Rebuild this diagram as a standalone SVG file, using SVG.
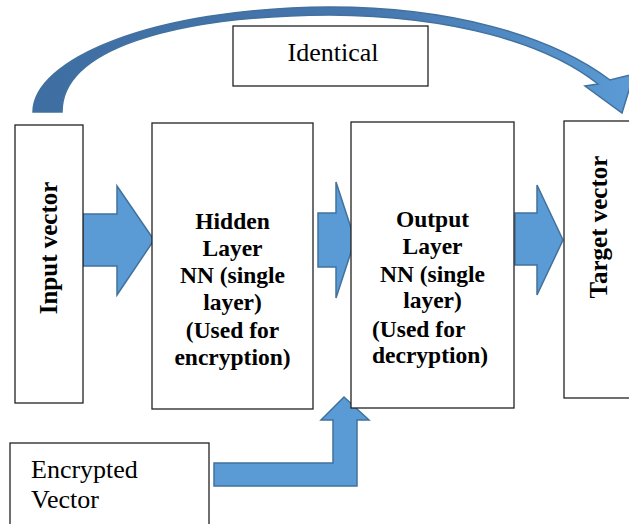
<svg xmlns="http://www.w3.org/2000/svg" width="629" height="524" viewBox="0 0 629 524">
<defs>
<linearGradient id="curveGradH" x1="0" y1="0" x2="1" y2="0">
<stop offset="0" stop-color="#3F6EA3"/>
<stop offset="0.55" stop-color="#4676AE"/>
<stop offset="1" stop-color="#5B9BD5"/>
</linearGradient>
</defs>
<style>
.box{fill:#fff;stroke:#222;stroke-width:1.3}
.arrow{fill:#5B9BD5;stroke:#41719C;stroke-width:1.5}
</style>
<rect width="629" height="524" fill="#fff"/>

<g id="connectors">
<path class="arrow" fill="url(#curveGradH)" style="fill:url(#curveGradH)" d="M33,112 C33,60 150,8 330,7 C450,7 550,35 610,80 L634,74 L622,113 L585,86 L598,84 C545,42 450,16 330,15 C170,16 62,50 62,112 Z"/>
<path class="arrow" d="M83,214 L117,214 L117,186 L154,240 L117,295 L117,266 L83,266 Z"/>
<path class="arrow" d="M318,213 L336,213 L336,182 L355,240 L336,298 L336,267 L318,267 Z"/>
<path class="arrow" d="M515,213 L537,213 L537,185 L563,240 L537,295 L537,265 L515,265 Z"/>
<path class="arrow" d="M214,463 L333,463 L333,420 L321,420 L344,397 L369,420 L357,420 L357,486 L214,486 Z"/>
</g>

<g id="identical">
<rect class="box" x="233" y="26" width="195" height="60"/>
<text x="333" y="61" font-family="Times New Roman" font-size="26" text-anchor="middle">Identical</text>
</g>

<g id="input">
<rect class="box" x="15" y="125" width="68" height="278"/>
<text transform="translate(56.5,248) rotate(-90)" font-family="Times New Roman" font-size="25" font-weight="bold" text-anchor="middle">Input vector</text>
</g>

<g id="hidden">
<rect class="box" x="152" y="123" width="161" height="286"/>
<text x="232.5" y="229" font-family="Times New Roman" font-size="23.5" font-weight="bold" text-anchor="middle">Hidden</text>
<text x="232.5" y="256" font-family="Times New Roman" font-size="23.5" font-weight="bold" text-anchor="middle">Layer</text>
<text x="232.5" y="283" font-family="Times New Roman" font-size="23.5" font-weight="bold" text-anchor="middle">NN (single</text>
<text x="232.5" y="310" font-family="Times New Roman" font-size="23.5" font-weight="bold" text-anchor="middle">layer)</text>
<text x="232.5" y="338" font-family="Times New Roman" font-size="23.5" font-weight="bold" text-anchor="middle">(Used for</text>
<text x="232.5" y="365" font-family="Times New Roman" font-size="23.5" font-weight="bold" text-anchor="middle">encryption)</text>
</g>

<g id="output">
<rect class="box" x="351" y="122" width="163" height="286"/>
<text x="432.5" y="227" font-family="Times New Roman" font-size="23.5" font-weight="bold" text-anchor="middle">Output</text>
<text x="432.5" y="254" font-family="Times New Roman" font-size="23.5" font-weight="bold" text-anchor="middle">Layer</text>
<text x="432.5" y="282" font-family="Times New Roman" font-size="23.5" font-weight="bold" text-anchor="middle">NN (single</text>
<text x="432.5" y="308" font-family="Times New Roman" font-size="23.5" font-weight="bold" text-anchor="middle">layer)</text>
<text x="372" y="337" font-family="Times New Roman" font-size="23.5" font-weight="bold">(Used for</text>
<text x="372" y="363" font-family="Times New Roman" font-size="23.5" font-weight="bold">decryption)</text>
</g>

<g id="target">
<rect class="box" x="564" y="121" width="80" height="277"/>
<text transform="translate(607,227) rotate(-90)" font-family="Times New Roman" font-size="25" font-weight="bold" text-anchor="middle">Target vector</text>
</g>

<g id="encrypted">
<rect class="box" x="10" y="443" width="199" height="90"/>
<text x="31" y="478" font-family="Times New Roman" font-size="26">Encrypted</text>
<text x="31" y="508" font-family="Times New Roman" font-size="26">Vector</text>
</g>
</svg>
